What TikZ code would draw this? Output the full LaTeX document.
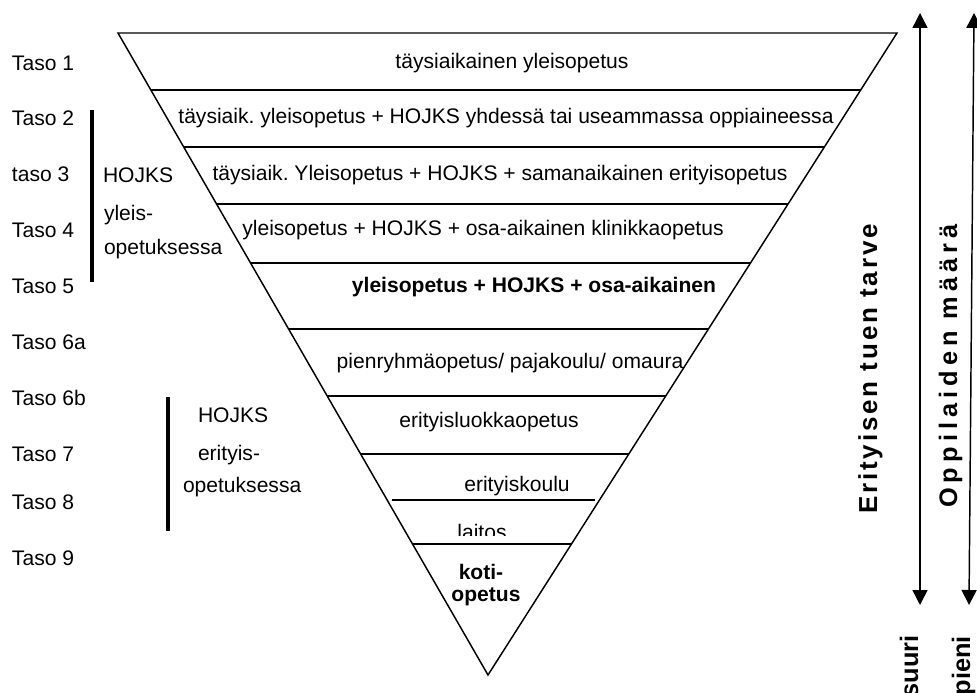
\documentclass[tikz,border=0pt]{standalone}
\usepackage{fontspec}
\setmainfont{Liberation Sans}
\newfontfamily\needfont[LetterSpace=11]{Liberation Sans}
\newfontfamily\countfont[LetterSpace=20]{Liberation Sans}
\usetikzlibrary{arrows.meta,calc}
\frenchspacing

\begin{document}
\begin{tikzpicture}[x=0.75pt,y=-0.75pt,
  body/.style={font=\fontsize{15.8}{19}\selectfont, inner sep=0pt, outer sep=0pt},
  lbl/.style={body, anchor=base west},
  rowtext/.style={body, anchor=base},
  rowbold/.style={body, anchor=base, font=\fontsize{15.8}{19}\selectfont\bfseries},
  edge/.style={line width=1.1pt},
  bar/.style={line width=2.3pt},
  axis/.style={line width=1.1pt,
    {Triangle[width=11.25pt,length=11.25pt]}-{Triangle[width=11.25pt,length=11.25pt]}},
  vneed/.style={inner sep=0pt, rotate=90, font=\needfont\fontsize{19.5}{22}\selectfont\bfseries},
  vcount/.style={inner sep=0pt, rotate=90, font=\countfont\fontsize{19}{22}\selectfont\bfseries},
  vend/.style={inner sep=0pt, rotate=90, anchor=base east, font=\fontsize{19}{22}\selectfont\bfseries}
]
\useasboundingbox (0,0) rectangle (977,692);

% inverted triangle
\coordinate (TL) at (118,33);
\coordinate (TR) at (897,33);
\coordinate (AP) at (488,675);
\draw[edge] (TL) -- (TR) -- (AP) -- cycle;

% level separators running edge to edge
\foreach \yy in {90,147,204,263,329,396,454,544}
  \draw[edge] ({118+(\yy-33)*0.5763},\yy) -- ({897-(\yy-33)*0.6371},\yy);
% shorter separator under erityiskoulu
\coordinate (sl) at (392,500);
\coordinate (sr) at (595,500);
\draw[edge] (sl) -- (sr);

% level contents
\node[rowtext] (r1) at (512,69) {täysiaikainen yleisopetus};
\node[rowtext] (r2) at (506,123) {täysiaik. yleisopetus + HOJKS yhdessä tai useammassa oppiaineessa};
\node[rowtext] (r3) at (500,180) {täysiaik. Yleisopetus + HOJKS + samanaikainen erityisopetus};
\node[rowtext] (r4) at (483,235) {yleisopetus + HOJKS + osa-aikainen klinikkaopetus};
\node[rowbold] (r5) at (534,292) {yleisopetus + HOJKS + osa-aikainen};
\node[rowtext] (r6) at (510,368) {pienryhmäopetus/ pajakoulu/ omaura};
\node[rowtext] (r7) at (489,427) {erityisluokkaopetus};
\node[rowtext] (r8) at (517,491) {erityiskoulu};
\begin{scope}
  \clip (380,505) rectangle (620,535.5);
  \node[rowtext] (r9) at (482,539) {laitos};
\end{scope}
\node[rowbold] (r10a) at (481,579.5) {koti-};
\node[rowbold] (r10b) at (486,601) {opetus};

% level names
\node[lbl] (t1) at (12,70) {Taso 1};
\node[lbl] (t2) at (12,125) {Taso 2};
\node[lbl] (t3) at (12,181) {taso 3};
\node[lbl] (t4) at (12,237) {Taso 4};
\node[lbl] (t5) at (12,293) {Taso 5};
\node[lbl] (t6a) at (12,349) {Taso 6a};
\node[lbl] (t6b) at (12,405) {Taso 6b};
\node[lbl] (t7) at (12,461) {Taso 7};
\node[lbl] (t8) at (12,509) {Taso 8};
\node[lbl] (t9) at (12,565) {Taso 9};

% HOJKS groups
\coordinate (b1t) at (92,110);
\coordinate (b1b) at (92,282);
\draw[bar] (b1t) -- (b1b);
\node[lbl] (g1a) at (103,182) {HOJKS};
\node[lbl] (g1b) at (104,220) {yleis-};
\node[lbl] (g1c) at (104,254) {opetuksessa};

\coordinate (b2t) at (168,397);
\coordinate (b2b) at (168,531);
\draw[bar] (b2t) -- (b2b);
\node[lbl] (g2a) at (198,422) {HOJKS};
\node[lbl] (g2b) at (198,460) {erityis-};
\node[lbl] (g2c) at (183,492) {opetuksessa};

% double-headed scales
\coordinate (a1t) at (920,13);
\coordinate (a1b) at (920,605);
\draw[axis] (a1t) -- (a1b);
\coordinate (a2t) at (974,13);
\coordinate (a2b) at (969,605);
\draw[axis] (a2t) -- (a2b);

\node[vneed, anchor=base] (need) at (877,369) {Erityisen tuen tarve};
\node[vcount, anchor=base] (count) at (957,366) {Oppilaiden määrä};
\node[vend] (big) at (918,635) {suuri};
\node[vend] (small) at (970,636) {pieni};
\end{tikzpicture}
\end{document}
